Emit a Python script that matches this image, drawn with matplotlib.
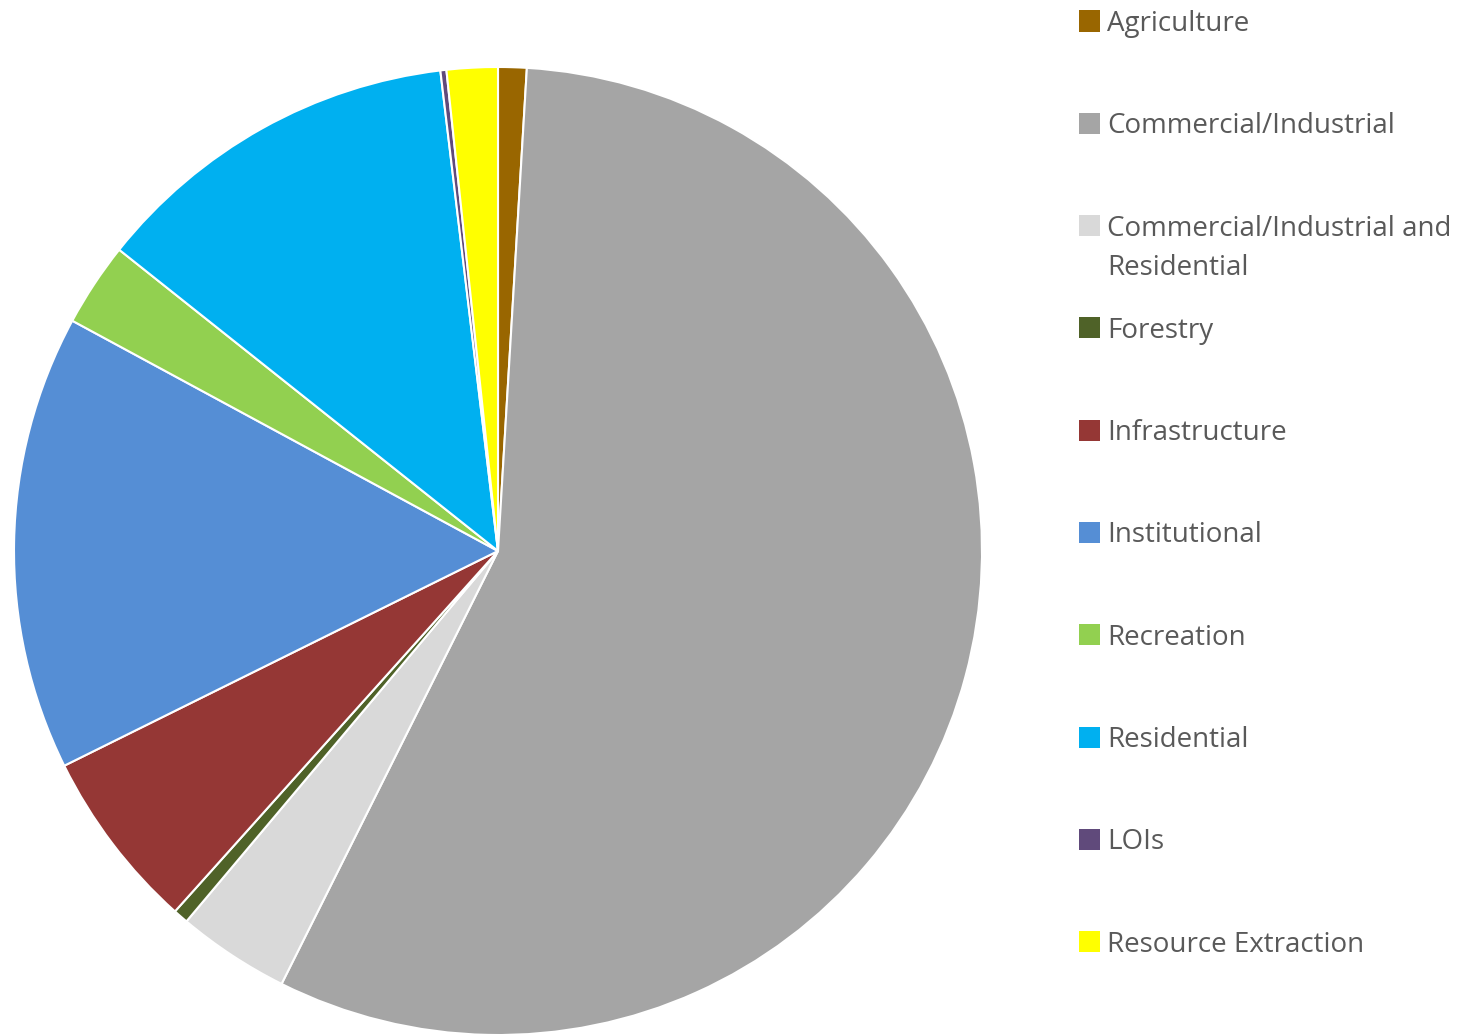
import matplotlib.pyplot as plt
from matplotlib.patches import Rectangle

# land-use share (percent of total)
categories = ["Agriculture", "Commercial/Industrial",
              "Commercial/Industrial and\nResidential", "Forestry",
              "Infrastructure", "Institutional", "Recreation",
              "Residential", "LOIs", "Resource Extraction"]
shares = [0.95, 56.4, 3.75, 0.5, 6.05, 15.2, 2.8, 12.4, 0.2, 1.7]
colors = ["#996600", "#A5A5A5", "#D9D9D9", "#4F6228", "#953735",
          "#558ED5", "#92D050", "#00B0F0", "#604A7B", "#FFFF00"]

W, H = 1481, 1036
fig = plt.figure(figsize=(W / 100, H / 100), dpi=100)

# pie centred at (498, 551) px, radius 484 px
cx, cy, r = 498, 551, 484
ax = fig.add_axes([(cx - r) / W, (H - cy - r) / H, 2 * r / W, 2 * r / H])
ax.pie(shares, colors=colors, startangle=90, counterclock=False,
       radius=1.0, wedgeprops=dict(edgecolor="white", linewidth=1.5))
ax.set_xlim(-1, 1)
ax.set_ylim(-1, 1)
ax.set_aspect("equal")
ax.axis("off")

# legend down the right side (px from top-left)
lx, ly0, step, box = 1079, 21, 102.3, 21
line_gap = 39
for i, (lab, col) in enumerate(zip(categories, colors)):
    yc = ly0 + i * step
    fig.patches.append(Rectangle((lx / W, (H - yc - box / 2) / H), box / W, box / H,
                                 transform=fig.transFigure, facecolor=col,
                                 edgecolor="none"))
    for k, part in enumerate(lab.split("\n")):
        fig.text((lx + box + 7) / W, (H - yc - 10 - k * line_gap) / H, part,
                 ha="left", va="baseline", fontsize=20, color="#595959",
                 family="Open Sans")

fig.savefig("out.png", dpi=100)
